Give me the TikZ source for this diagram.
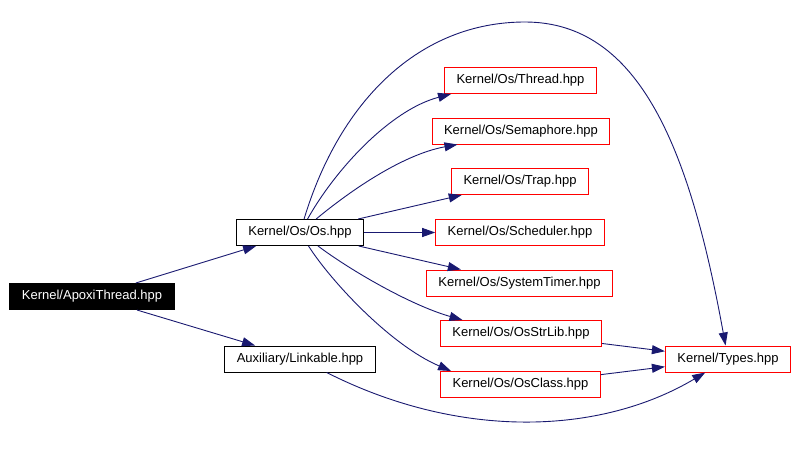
\documentclass[tikz,border=0pt]{standalone}
\usepackage{fontspec}
\usepackage{tikz}
\usetikzlibrary{arrows.meta,positioning}
\newfontfamily\dotfont{Liberation Sans}
\definecolor{edgeblue}{RGB}{25,25,112}

\begin{document}
\begin{tikzpicture}[x=1pt, y=-1pt, >={Triangle[length=13pt,width=9pt]}]
    \tikzstyle{file node} = [rectangle, draw=red, line width=1pt, minimum height=26pt, inner xsep=12pt, font=\dotfont\fontsize{13}{15}\selectfont]
    \tikzstyle{top node} = [file node, draw=black, fill=black, text=white]
    \tikzstyle{user node} = [file node, draw=black]
    \tikzstyle{dep} = [->, draw=edgeblue, line width=0.9pt]
    \useasboundingbox (0,0) rectangle (797,455);
    % nodes
    \node[top node] (apoxi) at (92,296.5) {Kernel/ApoxiThread.hpp};
    \node[user node] (os) at (300,232.5) {Kernel/Os/Os.hpp};
    \node[user node] (linkable) at (300,359) {Auxiliary/Linkable.hpp};
    \node[file node] (thread) at (520.5,80.5) {Kernel/Os/Thread.hpp};
    \node[file node] (semaphore) at (521,131) {Kernel/Os/Semaphore.hpp};
    \node[file node] (trap) at (520,181.5) {Kernel/Os/Trap.hpp};
    \node[file node] (scheduler) at (520,232.5) {Kernel/Os/Scheduler.hpp};
    \node[file node] (systimer) at (519.5,283) {Kernel/Os/SystemTimer.hpp};
    \node[file node] (osstrlib) at (521,333.5) {Kernel/Os/OsStrLib.hpp};
    \node[file node] (osclass) at (520.5,384.5) {Kernel/Os/OsClass.hpp};
    \node[file node] (types) at (728,359) {Kernel/Types.hpp};
    % includes
    \draw[dep] (apoxi) -- (os);
    \draw[dep] (apoxi) -- (linkable);
    \draw[dep] (os) .. controls (335,170) and (390,110) .. (thread.191);
    \draw[dep] (os) .. controls (345,195) and (400,155) .. (semaphore.192);
    \draw[dep] (os) -- (trap);
    \draw[dep] (os) -- (scheduler);
    \draw[dep] (os) -- (systimer);
    \draw[dep] (os) .. controls (350,270) and (410,305) .. (osstrlib.167);
    \draw[dep] (os) .. controls (330,280) and (390,345) .. (osclass.169);
    \draw[dep] (os) .. controls (340,100) and (420,22) .. (525,22) .. controls (640,22) and (690,150) .. (types);
    \draw[dep] (osstrlib) -- (types);
    \draw[dep] (osclass) -- (types);
    \draw[dep] (linkable) .. controls (460,440) and (600,435) .. (types);
\end{tikzpicture}
\end{document}
